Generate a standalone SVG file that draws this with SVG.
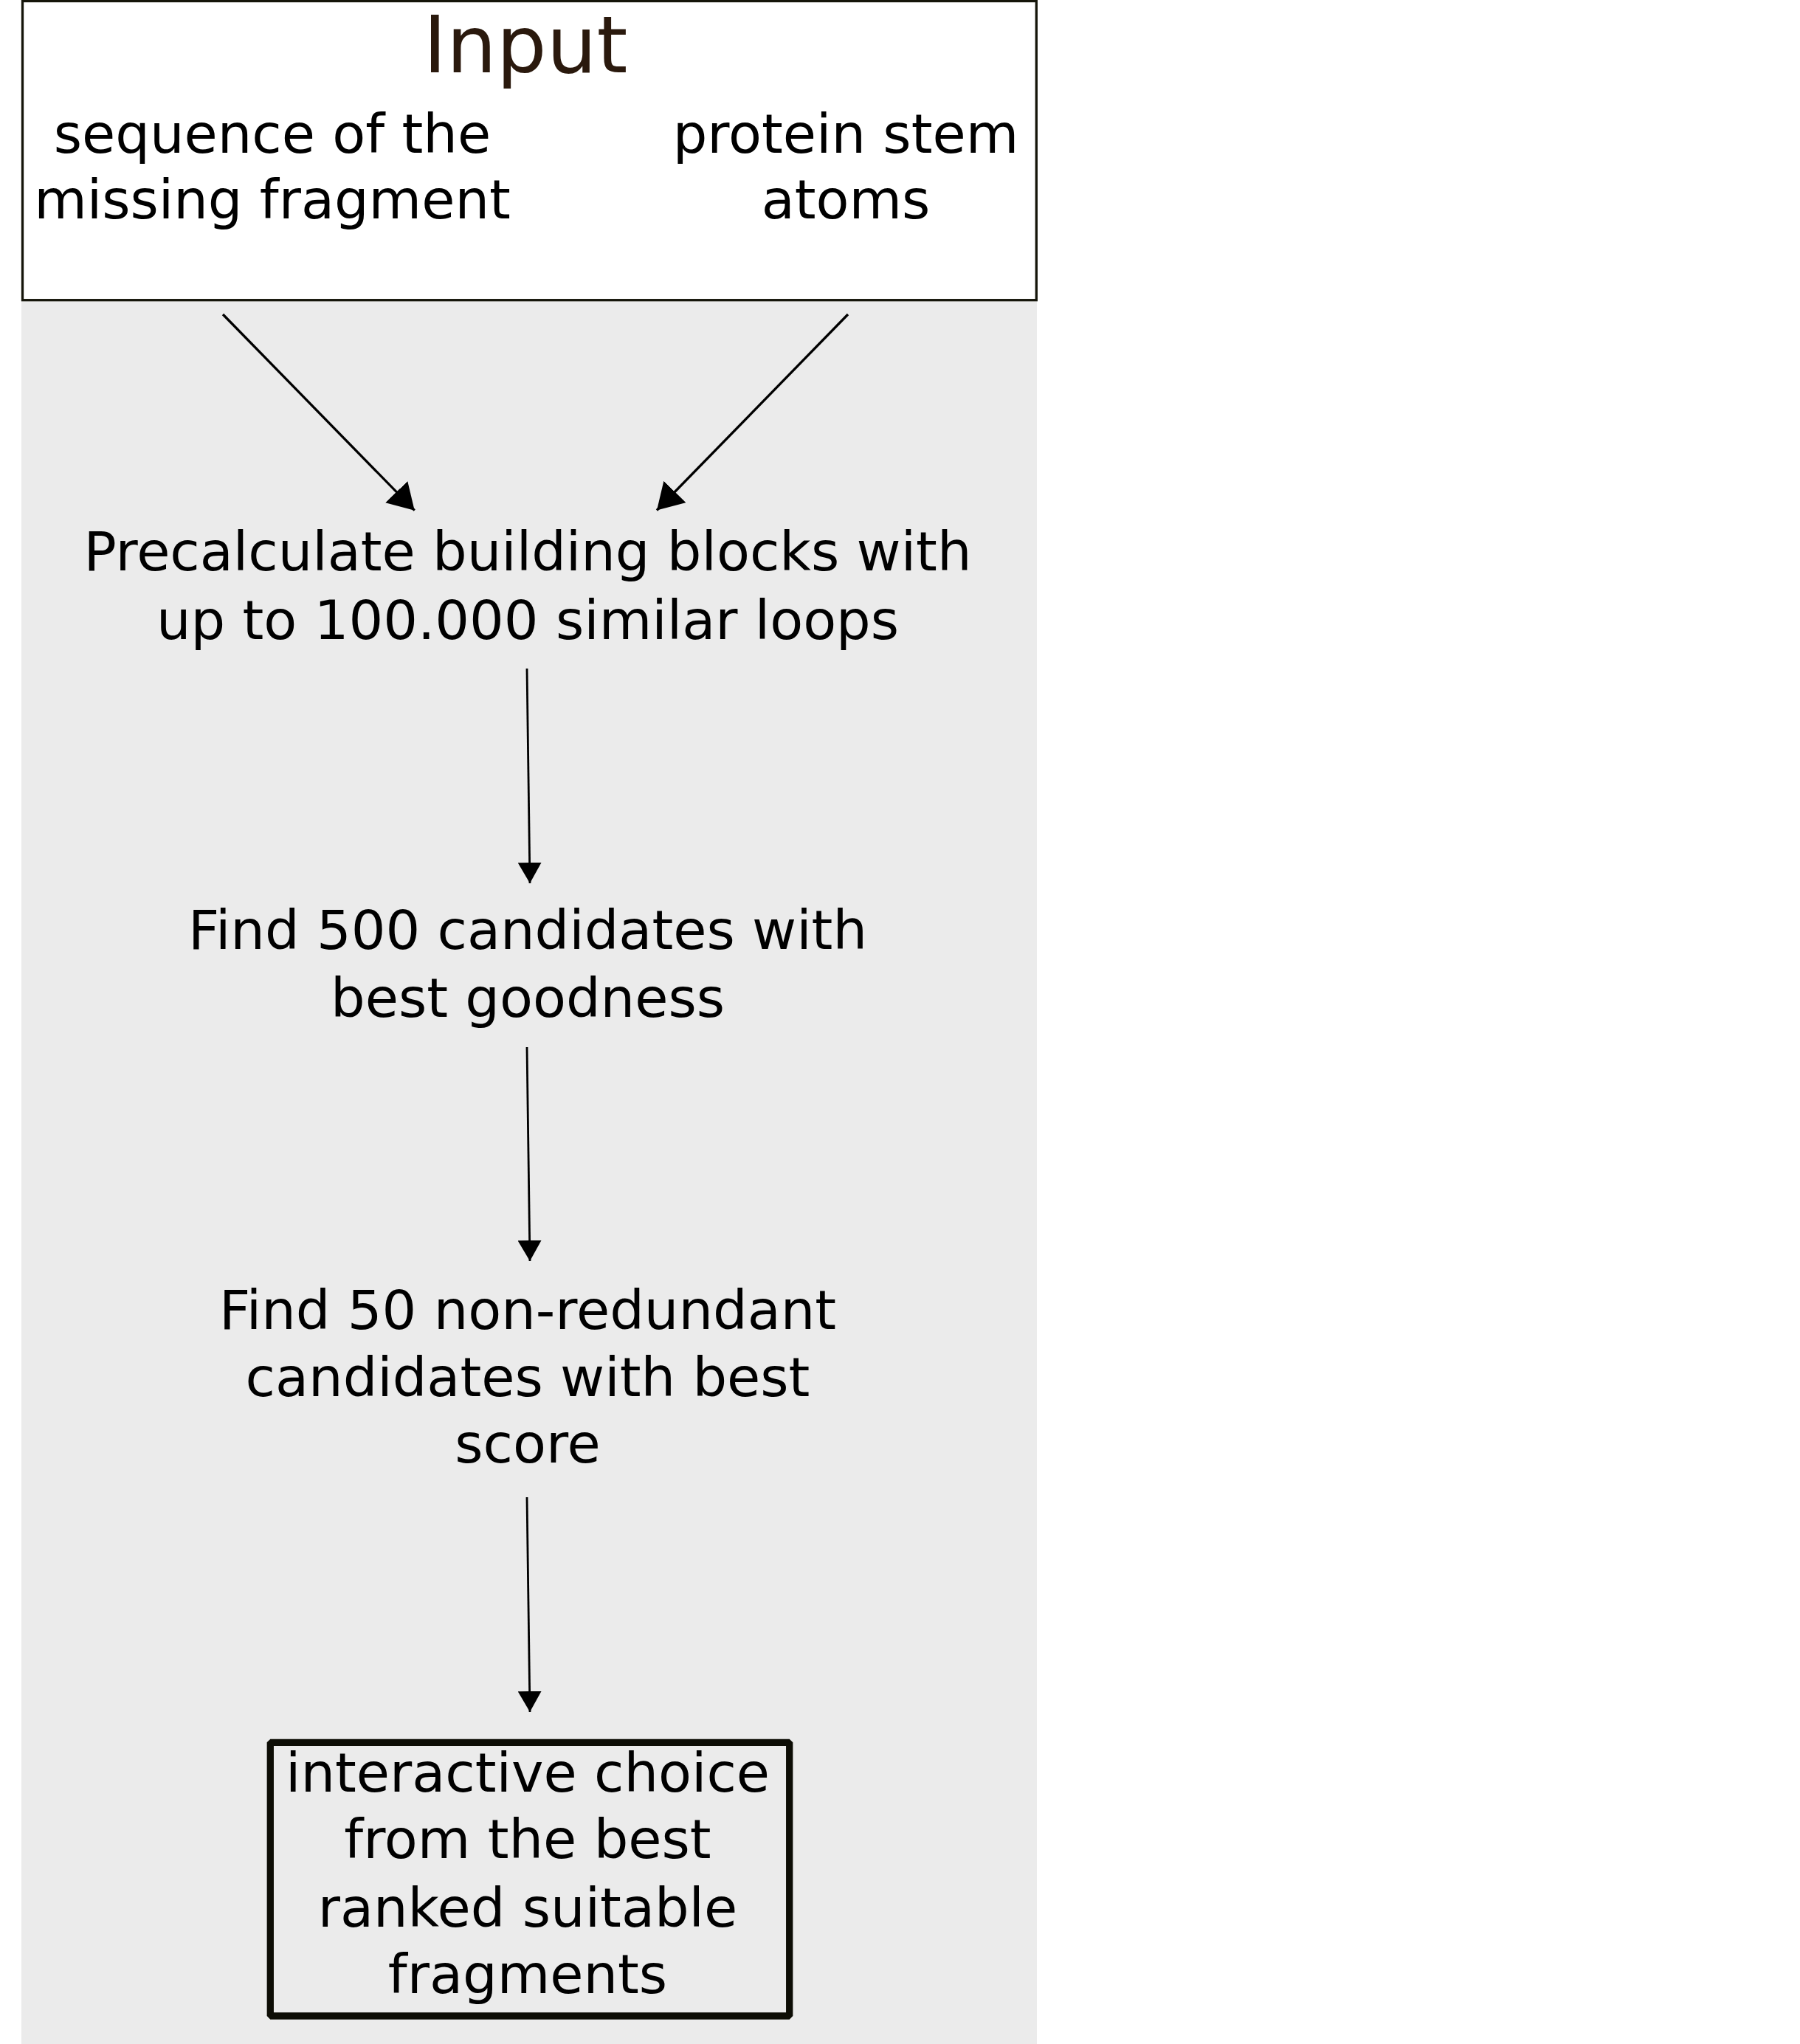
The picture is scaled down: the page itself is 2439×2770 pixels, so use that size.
<svg xmlns="http://www.w3.org/2000/svg" width="2439" height="2770" viewBox="0 0 2439 2770">
  <style>
    .t { font-family: "DejaVu Sans", "Noto Sans", sans-serif; font-size: 73.5px; fill: #000000; text-anchor: middle; }
    .title { font-family: "DejaVu Sans", "Noto Sans", sans-serif; font-size: 107px; fill: #2a190d; text-anchor: middle; }
    .conn { stroke: #000000; fill: none; }
  </style>
  <defs>
    <marker id="headBig" markerUnits="userSpaceOnUse" markerWidth="36" markerHeight="42" refX="35" refY="21" orient="auto" viewBox="0 0 36 42">
      <path d="M0,0 L35,21 L0,42 Z" fill="#000000"/>
    </marker>
    <marker id="headSmall" markerUnits="userSpaceOnUse" markerWidth="29" markerHeight="32" refX="28" refY="16" orient="auto" viewBox="0 0 29 32">
      <path d="M0,0 L28,16 L0,32 Z" fill="#000000"/>
    </marker>
  </defs>

  <rect id="background" x="29" y="0" width="1376" height="2770" fill="#ebebeb"/>

  <g id="input">
    <rect x="30.5" y="1.5" width="1373.8" height="405.2" fill="#ffffff" stroke="#15150a" stroke-width="3.3"/>
    <text class="title" x="712" y="98">Input</text>
    <text class="t" x="369" y="207">sequence of the</text>
    <text class="t" x="369" y="296">missing fragment</text>
    <text class="t" x="1146" y="207">protein stem</text>
    <text class="t" x="1146" y="296">atoms</text>
  </g>

  <g id="precalculate">
    <text class="t" x="715" y="773">Precalculate building blocks with</text>
    <text class="t" x="715" y="866">up to 100.000 similar loops</text>
  </g>

  <g id="find500">
    <text class="t" x="715" y="1286">Find 500 candidates with</text>
    <text class="t" x="715" y="1378">best goodness</text>
  </g>

  <g id="find50">
    <text class="t" x="715" y="1801">Find 50 non-redundant</text>
    <text class="t" x="715" y="1892">candidates with best</text>
    <text class="t" x="715" y="1982">score</text>
  </g>

  <g id="choice">
    <rect x="366.3" y="2361.3" width="703.4" height="370.7" fill="none" stroke="#0d0d05" stroke-width="9.3" stroke-linejoin="bevel"/>
    <text class="t" x="715" y="2428">interactive choice</text>
    <text class="t" x="715" y="2518">from the best</text>
    <text class="t" x="715" y="2611">ranked suitable</text>
    <text class="t" x="715" y="2701">fragments</text>
  </g>

  <g id="connectors">
    <line class="conn" x1="302" y1="426" x2="561.7" y2="691.7" stroke-width="3.3" marker-end="url(#headBig)"/>
    <line class="conn" x1="1149" y1="426" x2="890" y2="691.5" stroke-width="3.3" marker-end="url(#headBig)"/>
    <line class="conn" x1="714" y1="906" x2="718" y2="1197" stroke-width="2.8" marker-end="url(#headSmall)"/>
    <line class="conn" x1="714" y1="1419" x2="718" y2="1709" stroke-width="2.8" marker-end="url(#headSmall)"/>
    <line class="conn" x1="714" y1="2029" x2="718" y2="2320" stroke-width="2.8" marker-end="url(#headSmall)"/>
  </g>
</svg>
